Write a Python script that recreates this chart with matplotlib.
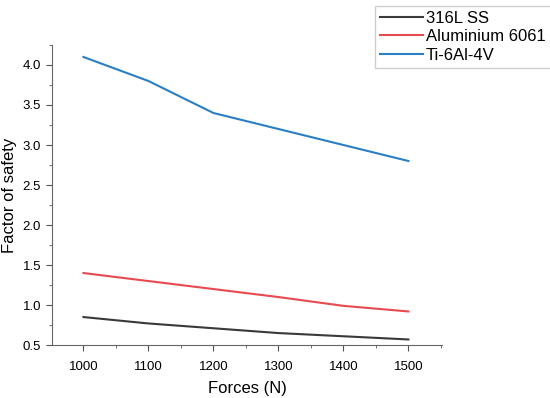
import matplotlib.pyplot as plt
from matplotlib.ticker import MultipleLocator

forces = [1000, 1100, 1200, 1300, 1400, 1500]
ss316 = [0.85, 0.77, 0.71, 0.65, 0.61, 0.57]
al6061 = [1.40, 1.30, 1.20, 1.10, 0.99, 0.92]
ti64 = [4.10, 3.80, 3.40, 3.20, 3.00, 2.80]

plt.rcParams['font.family'] = ['Liberation Sans', 'DejaVu Sans']

fig = plt.figure(figsize=(5.5, 3.98), dpi=100)
ax = fig.add_axes([0.095, 0.133, 0.709, 0.754])

ax.plot(forces, ss316, color='#3a3a3a', lw=1.5, label='316L SS')
ax.plot(forces, al6061, color='#e84a4f', lw=1.5, label='Aluminium 6061')
ax.plot(forces, ti64, color='#2a7fc4', lw=1.5, label='Ti-6Al-4V')

ax.set_xlim(952, 1552)
ax.set_ylim(0.5, 4.25)
ax.xaxis.set_major_locator(MultipleLocator(100))
ax.xaxis.set_minor_locator(MultipleLocator(50))
ax.yaxis.set_major_locator(MultipleLocator(0.5))
ax.yaxis.set_minor_locator(MultipleLocator(0.25))
ax.tick_params(which='both', direction='out', labelsize=9.5, color='#555555')
ax.tick_params(which='major', length=4.5)
ax.tick_params(which='minor', length=2.5)
ax.tick_params(axis='x', pad=7)
ax.spines['top'].set_visible(False)
ax.spines['right'].set_visible(False)
for s in ['left', 'bottom']:
    ax.spines[s].set_color('#666666')

ax.set_xlabel('Forces (N)', fontsize=12, labelpad=6)
ax.set_ylabel('Factor of safety', fontsize=12)

fig.legend(loc='upper left', bbox_to_anchor=(0.682, 0.985, 0.35, 0.0),
           mode='expand', fontsize=12,
           frameon=True, fancybox=False, edgecolor='#c4c4c4',
           handlelength=2.6, handletextpad=0.15, borderpad=0.3,
           labelspacing=0.2, borderaxespad=0)

fig.savefig('out.png', dpi=100)
